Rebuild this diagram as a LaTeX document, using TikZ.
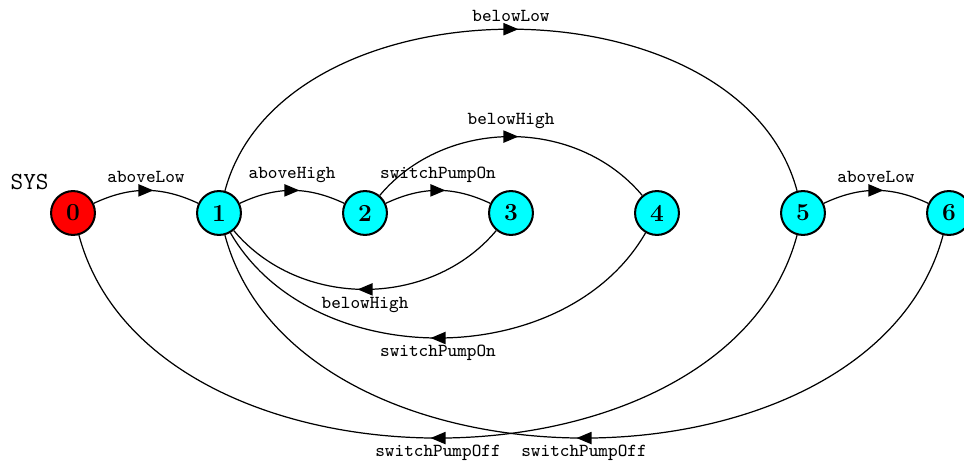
\documentclass[tikz,border=0pt]{standalone}
\usetikzlibrary{arrows.meta,decorations.markings,positioning}
\definecolor{loccyan}{RGB}{0,255,255}
\definecolor{initred}{RGB}{255,0,0}
\tikzset{
  loc/.style={circle,draw,line width=1pt,fill=loccyan,minimum size=21.5pt,inner sep=0pt,font=\large\bfseries},
  trans/.style={line width=0.6pt,postaction={decorate},
    decoration={markings,mark=at position 0.5 with {\arrow[xshift=3.6pt]{Triangle[length=7.3pt,width=6pt]}}}},
  lbl/.style={font=\small\ttfamily}
}
\begin{document}
\begin{tikzpicture}[x=0.49pt,y=0.49pt]
\useasboundingbox (0,0) rectangle (964,466);
\node[loc,fill=initred] (n0) at (73,253) {0};
\foreach \i in {1,...,6} \node[loc] (n\i) at (73+146*\i,253) {\i};
\node[font=\large\ttfamily,above left=0pt and 0.5pt of n0] (sys) {SYS};
% neighbours
\draw[trans] (n0) to[bend left=25] node[lbl,above] {aboveLow} (n1);
\draw[trans] (n1) to[bend left=25] node[lbl,above] {aboveHigh} (n2);
\draw[trans] (n2) to[bend left=25] node[lbl,above] {switchPumpOn} (n3);
\draw[trans] (n5) to[bend left=25] node[lbl,above] {aboveLow} (n6);
% long arcs
\draw[trans] (n2) to[bend left=50] node[lbl,above] {belowHigh} (n4);
\draw[trans] (n1) to[bend left=75] node[lbl,above] {belowLow} (n5);
\draw[trans] (n3) to[bend left=50] node[lbl,below] {belowHigh} (n1);
\draw[trans] (n4) to[bend left=60] node[lbl,below] {switchPumpOn} (n1);
\draw[trans] (n5) to[bend left=75] node[lbl,below] {switchPumpOff} (n0);
\draw[trans] (n6) to[bend left=75] node[lbl,below] {switchPumpOff} (n1);
\end{tikzpicture}
\end{document}
